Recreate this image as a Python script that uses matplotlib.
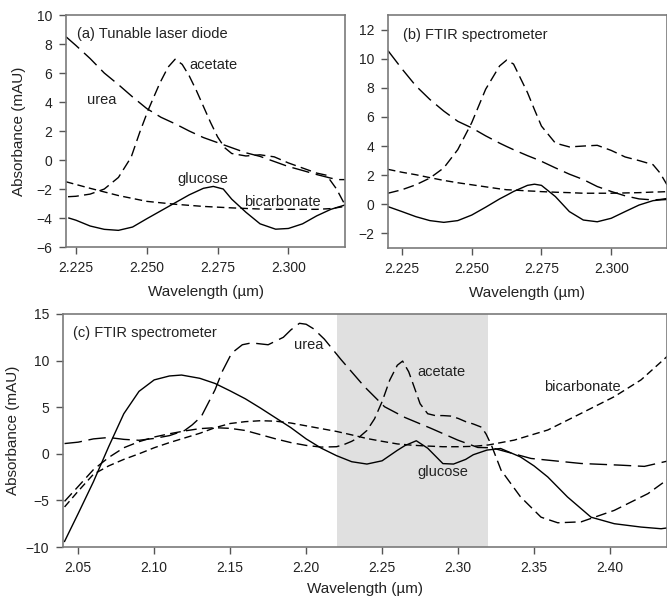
import numpy as np
import matplotlib
matplotlib.use('Agg')
import matplotlib.pyplot as plt
from matplotlib.ticker import MultipleLocator, FormatStrFormatter

plt.rcParams['font.family'] = ['Liberation Sans', 'DejaVu Sans']

# ---- panel (a): tunable laser diode ----
a_glu_x = [2.2225, 2.225, 2.230, 2.235, 2.240, 2.245, 2.250, 2.255, 2.260, 2.265, 2.270, 2.2735,
           2.277, 2.280, 2.285, 2.290, 2.2955, 2.300, 2.305, 2.310, 2.315, 2.320]
a_glu_y = [-4.0, -4.15, -4.55, -4.78, -4.85, -4.62, -4.05, -3.5, -2.95, -2.4, -1.95, -1.82,
           -2.0, -2.7, -3.6, -4.4, -4.77, -4.72, -4.4, -3.85, -3.4, -3.1]

a_ace_x = [2.2222, 2.225, 2.230, 2.235, 2.240, 2.2445, 2.2475, 2.2505, 2.2546, 2.2575, 2.260,
           2.2625, 2.265, 2.2675, 2.270, 2.2725, 2.275, 2.2775, 2.280, 2.285, 2.290, 2.295,
           2.300, 2.305, 2.310, 2.3135, 2.317, 2.320]
a_ace_y = [-2.53, -2.5, -2.35, -2.0, -1.2, 0.2, 1.9, 3.45, 5.3, 6.4, 6.95,
           6.6, 5.8, 4.8, 3.7, 2.6, 1.6, 0.85, 0.45, 0.28, 0.36, 0.22,
           -0.2, -0.55, -0.9, -1.05, -2.0, -3.1]

a_urea_x = [2.2215, 2.225, 2.230, 2.235, 2.240, 2.245, 2.250, 2.255, 2.260, 2.265, 2.270, 2.275,
            2.280, 2.285, 2.290, 2.295, 2.300, 2.305, 2.310, 2.315, 2.3175, 2.320]
a_urea_y = [8.5, 7.9, 7.0, 6.0, 5.2, 4.35, 3.55, 2.95, 2.5, 2.0, 1.55, 1.2,
            0.85, 0.5, 0.25, -0.1, -0.45, -0.72, -1.0, -1.25, -1.35, -1.35]

a_bic_x = [2.2215, 2.230, 2.240, 2.250, 2.260, 2.270, 2.280, 2.290, 2.300, 2.310, 2.315, 2.320]
a_bic_y = [-1.5, -1.95, -2.45, -2.85, -3.05, -3.2, -3.3, -3.38, -3.4, -3.4, -3.35, -3.2]

# ---- panel (b): FTIR, 2.22-2.32 ----
b_x = [2.220, 2.225, 2.230, 2.235, 2.240, 2.245, 2.250, 2.255, 2.260, 2.2625, 2.265, 2.270,
       2.2725, 2.275, 2.280, 2.285, 2.290, 2.295, 2.300, 2.305, 2.310, 2.315, 2.3175, 2.320]
b_glu_y = [-0.16, -0.5, -0.85, -1.12, -1.24, -1.12, -0.74, -0.2, 0.37, 0.62, 0.88, 1.3,
           1.38, 1.3, 0.53, -0.5, -1.08, -1.2, -0.96, -0.5, -0.05, 0.25, 0.3, 0.33]
b_ace_y = [0.76, 1.0, 1.34, 1.8, 2.5, 3.75, 5.6, 7.9, 9.5, 9.9, 9.63, 7.67,
           6.5, 5.37, 4.2, 3.94, 4.0, 4.05, 3.7, 3.25, 3.0, 2.72, 2.15, 1.34]
b_urea_y = [10.55, 9.3, 8.13, 7.2, 6.4, 5.7, 5.25, 4.7, 4.2, 3.97, 3.75, 3.34,
            3.15, 2.95, 2.5, 2.07, 1.7, 1.22, 0.88, 0.58, 0.37, 0.3, 0.33, 0.4]
b_bic_y = [2.4, 2.2, 2.03, 1.83, 1.64, 1.48, 1.34, 1.2, 1.06, 1.0, 0.98, 0.92,
           0.9, 0.87, 0.83, 0.8, 0.76, 0.76, 0.76, 0.78, 0.8, 0.84, 0.85, 0.87]

# ---- panel (c): FTIR, full range ----
c_glu_x = [2.041, 2.05, 2.06, 2.07, 2.08, 2.09, 2.10, 2.11, 2.118, 2.13, 2.14, 2.15, 2.16, 2.17,
           2.18, 2.19, 2.20, 2.21, 2.22, 2.23, 2.24, 2.25, 2.26, 2.265, 2.2725, 2.28, 2.29,
           2.297, 2.305, 2.31, 2.319, 2.328, 2.341, 2.35, 2.359, 2.372, 2.3875, 2.4028,
           2.4204, 2.4336, 2.44]
c_glu_y = [-9.4, -6.4, -3.0, 0.75, 4.3, 6.7, 7.93, 8.35, 8.45, 8.1, 7.55, 6.75, 5.9, 4.9,
           3.85, 2.8, 1.6, 0.6, -0.2, -0.85, -1.1, -0.75, 0.37, 0.88, 1.4, 0.6, -1.05,
           -1.1, -0.6, -0.1, 0.4, 0.57, -0.33, -1.3, -2.48, -4.63, -6.8, -7.5,
           -7.86, -8.04, -7.9]

c_ace_x = [2.041, 2.05, 2.06, 2.07, 2.08, 2.09, 2.10, 2.11, 2.12, 2.13, 2.14, 2.15, 2.16, 2.17,
           2.18, 2.19, 2.20, 2.21, 2.22, 2.225, 2.23, 2.235, 2.24, 2.245, 2.25, 2.255, 2.26,
           2.2635, 2.2675, 2.27, 2.275, 2.28, 2.285, 2.29, 2.295, 2.30, 2.305, 2.31, 2.3155,
           2.3185, 2.322, 2.3283, 2.341, 2.3546, 2.3656, 2.381, 2.4028, 2.425, 2.44]
c_ace_y = [-5.1, -3.5, -1.7, -0.4, 0.65, 1.3, 1.8, 2.15, 2.45, 2.7, 2.8, 2.73, 2.5, 2.05,
           1.6, 1.2, 0.9, 0.72, 0.76, 1.0, 1.34, 1.8, 2.5, 3.75, 5.6, 7.9, 9.5,
           9.95, 8.8, 7.67, 5.37, 4.3, 4.1, 4.1, 4.05, 3.8, 3.45, 3.2, 2.85,
           2.1, 0.9, -1.76, -4.6, -6.8, -7.4, -7.3, -6.07, -4.27, -2.5]

c_urea_x = [2.041, 2.05, 2.06, 2.07, 2.08, 2.09, 2.10, 2.11, 2.12, 2.125, 2.131, 2.14, 2.145,
            2.151, 2.158, 2.164, 2.175, 2.185, 2.19, 2.1956, 2.20, 2.205, 2.212, 2.223,
            2.2384, 2.2516, 2.265, 2.2822, 2.2998, 2.313, 2.322, 2.348, 2.381, 2.407,
            2.4226, 2.44]
c_urea_y = [1.1, 1.25, 1.6, 1.75, 1.55, 1.45, 1.65, 1.95, 2.5, 3.1, 4.0, 6.85, 8.9,
            10.8, 11.7, 11.9, 11.7, 12.5, 13.3, 14.0, 13.9, 13.4, 12.3, 10.1,
            7.2, 5.05, 3.9, 2.73, 1.47, 0.68, 0.65, -0.5, -1.04, -1.22,
            -1.35, -0.7]

c_bic_x = [2.041, 2.05, 2.06, 2.07, 2.08, 2.09, 2.10, 2.11, 2.12, 2.13, 2.14, 2.15, 2.16, 2.17,
           2.18, 2.19, 2.20, 2.21, 2.22, 2.23, 2.24, 2.25, 2.26, 2.27, 2.28, 2.29, 2.30, 2.31,
           2.32, 2.337, 2.359, 2.381, 2.4028, 2.4204, 2.44]
c_bic_y = [-5.7, -4.0, -2.2, -1.3, -0.6, 0.0, 0.65, 1.2, 1.7, 2.2, 2.8, 3.25, 3.45, 3.55,
           3.5, 3.3, 3.0, 2.7, 2.4, 2.03, 1.64, 1.34, 1.06, 0.92, 0.83, 0.76, 0.76, 0.8,
           0.95, 1.47, 2.55, 4.34, 6.13, 7.93, 10.8]

shade = (2.22, 2.32)

glu_style = dict(color='black', lw=1.0, ls='-')
ace_style = dict(color='black', lw=1.0, ls=(0, (7.8, 3.8)))
urea_style = dict(color='black', lw=1.0, ls=(0, (12.6, 4.8)))
bic_style = dict(color='black', lw=1.0, ls=(0, (5.4, 3.1)))

txt = '#222222'


def style_axes(ax):
    for sp in ax.spines.values():
        sp.set_linewidth(1.2)
        sp.set_color('#7a7a7a')
    ax.tick_params(direction='out', length=5, width=1, color='#555555', pad=5,
                   labelsize=10, labelcolor=txt, top=False, right=False)


fig = plt.figure(figsize=(6.67, 5.99), dpi=100)

# (a)
ax = fig.add_axes([0.0990, 0.5876, 0.4183, 0.3873])
ax.plot(a_glu_x, a_glu_y, **glu_style)
ax.plot(a_ace_x, a_ace_y, **ace_style)
ax.plot(a_urea_x, a_urea_y, **urea_style)
ax.plot(a_bic_x, a_bic_y, **bic_style)
ax.set_xlim(2.2215, 2.32)
ax.set_ylim(-6, 10)
ax.set_xticks([2.225, 2.25, 2.275, 2.3])
ax.xaxis.set_major_formatter(FormatStrFormatter('%.3f'))
ax.yaxis.set_major_locator(MultipleLocator(2))
ax.set_xlabel('Wavelength (\u00b5m)', fontsize=11, color=txt, labelpad=7)
ax.set_ylabel('Absorbance (mAU)', fontsize=11, color=txt, labelpad=7)
ax.text(0.04, 0.92, '(a) Tunable laser diode', transform=ax.transAxes, fontsize=10.5,
        color=txt, va='center', ha='left')
ax.text(2.2342, 4.14, 'urea', fontsize=10.5, color=txt, ha='center', va='center')
ax.text(2.2652, 6.55, 'acetate', fontsize=10.5, color=txt, ha='left', va='center')
ax.text(2.2697, -1.31, 'glucose', fontsize=10.5, color=txt, ha='center', va='center')
ax.text(2.2977, -2.9, 'bicarbonate', fontsize=10.5, color=txt, ha='center', va='center')
style_axes(ax)

# (b)
ax = fig.add_axes([0.5817, 0.5860, 0.4183, 0.3890])
ax.plot(b_x, b_glu_y, **glu_style)
ax.plot(b_x, b_ace_y, **ace_style)
ax.plot(b_x, b_urea_y, **urea_style)
ax.plot(b_x, b_bic_y, **bic_style)
ax.set_xlim(2.22, 2.32)
ax.set_ylim(-3, 13)
ax.set_xticks([2.225, 2.25, 2.275, 2.3])
ax.xaxis.set_major_formatter(FormatStrFormatter('%.3f'))
ax.set_yticks(range(-2, 13, 2))
ax.set_xlabel('Wavelength (\u00b5m)', fontsize=11, color=txt, labelpad=7)
ax.text(0.053, 0.914, '(b) FTIR spectrometer', transform=ax.transAxes, fontsize=10.5,
        color=txt, va='center', ha='left')
style_axes(ax)

# (c)
ax = fig.add_axes([0.0945, 0.0868, 0.9055, 0.3890])
ax.axvspan(shade[0], shade[1], color='#e0e0e0', lw=0, zorder=0)
ax.plot(c_glu_x, c_glu_y, **glu_style)
ax.plot(c_ace_x, c_ace_y, **ace_style)
ax.plot(c_urea_x, c_urea_y, **urea_style)
ax.plot(c_bic_x, c_bic_y, **bic_style)
ax.set_xlim(2.04, 2.4375)
ax.set_ylim(-10, 15)
ax.set_xticks([2.05, 2.10, 2.15, 2.20, 2.25, 2.30, 2.35, 2.40])
ax.xaxis.set_major_formatter(FormatStrFormatter('%.2f'))
ax.yaxis.set_major_locator(MultipleLocator(5))
ax.set_xlabel('Wavelength (\u00b5m)', fontsize=11, color=txt, labelpad=5)
ax.set_ylabel('Absorbance (mAU)', fontsize=11, color=txt, labelpad=4)
ax.text(0.016, 0.917, '(c) FTIR spectrometer', transform=ax.transAxes, fontsize=10.5,
        color=txt, va='center', ha='left')
ax.text(2.202, 11.7, 'urea', fontsize=10.5, color=txt, ha='center', va='center')
ax.text(2.2888, 8.82, 'acetate', fontsize=10.5, color=txt, ha='center', va='center')
ax.text(2.2898, -1.94, 'glucose', fontsize=10.5, color=txt, ha='center', va='center')
ax.text(2.3815, 7.14, 'bicarbonate', fontsize=10.5, color=txt, ha='center', va='center')
style_axes(ax)

fig.savefig('out.png', dpi=100)
